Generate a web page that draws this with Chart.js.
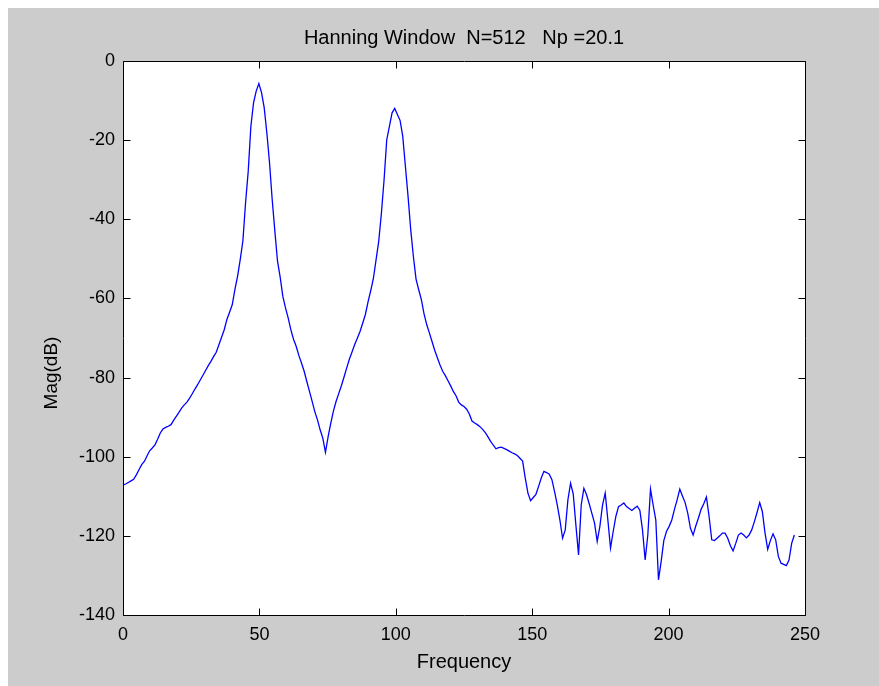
<!DOCTYPE html>
<html>
<head>
<meta charset="utf-8">
<script src="https://cdn.jsdelivr.net/npm/chart.js@4.4.1/dist/chart.umd.min.js"></script>
<style>
  html, body { margin: 0; padding: 0; background: #fff; }
  canvas { display: block; }
</style>
</head>
<body>
<canvas id="myChart" width="879" height="686"></canvas>
<script>
// FFT setup: bin k sits at k * fs / nfft Hz
const fs = 500;
const nfft = 512;

// magnitude in dB, one value per bin (0..252)
const magDb = [
  -107.1, -106.9, -106.5, -106.1, -105.7, -104.6, -103.3, -102.0, -101.2, -99.8,
  -98.5, -97.8, -97.0, -95.6, -94.0, -93.0, -92.6, -92.3, -91.9, -90.8,
  -89.8, -88.8, -87.7, -86.9, -86.2, -85.2, -84.1, -82.9, -81.8, -80.6,
  -79.4, -78.2, -77.0, -75.9, -74.7, -73.6, -71.7, -69.8, -67.9, -65.3,
  -63.5, -61.6, -57.8, -54.4, -50.2, -45.5, -35.9, -27.9, -16.5, -10.6,
  -7.6, -5.7, -8.0, -11.8, -18.2, -25.7, -35.0, -43.0, -50.6, -54.6,
  -59.5, -62.4, -64.9, -67.9, -70.3, -72.1, -74.4, -76.3, -78.4, -81.0,
  -83.5, -86.0, -88.6, -90.7, -93.2, -95.3, -98.9, -94.9, -91.5, -88.4,
  -86.0, -84.0, -82.0, -79.8, -77.5, -75.3, -73.5, -71.6, -70.0, -68.3,
  -66.2, -64.0, -60.8, -58.0, -54.9, -50.2, -45.5, -38.4, -30.0, -19.9,
  -16.5, -13.1, -12.0, -13.5, -15.0, -19.0, -26.6, -34.2, -42.6, -49.4,
  -55.1, -57.8, -60.3, -63.9, -66.6, -68.7, -70.9, -73.1, -75.0, -76.8,
  -78.4, -79.5, -80.8, -82.1, -83.5, -84.6, -86.2, -86.9, -87.3, -88.0,
  -89.2, -91.0, -91.5, -91.9, -92.4, -93.1, -93.9, -95.0, -96.1, -97.1,
  -98.0, -97.7, -97.6, -97.9, -98.2, -98.6, -99.0, -99.3, -99.7, -100.4,
  -101.1, -105.4, -109.2, -111.1, -110.3, -109.5, -107.5, -105.4, -103.7, -104.0,
  -104.4, -105.8, -108.8, -112.2, -116.0, -120.6, -118.5, -110.9, -106.7, -109.4,
  -117.3, -124.8, -112.2, -108.0, -109.6, -111.9, -114.3, -116.8, -121.4, -117.6,
  -112.2, -109.2, -116.0, -123.1, -118.9, -115.1, -112.6, -112.2, -111.7, -112.6,
  -113.1, -113.6, -113.0, -112.5, -113.5, -118.5, -126.1, -119.8, -108.2, -112.2,
  -116.0, -131.1, -126.5, -121.2, -118.9, -117.6, -116.0, -113.3, -110.9, -108.2,
  -109.9, -111.6, -114.3, -118.1, -119.8, -117.5, -115.5, -113.3, -111.9, -110.2,
  -115.1, -121.0, -121.2, -120.6, -120.0, -119.3, -119.3, -120.6, -122.5, -123.8,
  -121.9, -119.8, -119.3, -119.8, -120.5, -119.8, -118.5, -116.4, -114.1, -111.6,
  -113.9, -119.3, -123.4, -121.2, -119.5, -121.0, -125.2, -126.9, -127.2, -127.5,
  -126.1, -121.9, -119.8
];

const xTicks = [0, 50, 100, 150, 200, 250];
const yTicks = [0, -20, -40, -60, -80, -100, -120, -140];

const titleText = 'Hanning Window  N=512   Np =20.1';
const yLabel = 'Mag(dB)';

const points = magDb.map((v, k) => ({ x: k * fs / nfft, y: v }));

const fontFamily = '"Liberation Sans", Arial, sans-serif';

// MATLAB look: grey figure, white axes box, ticks pointing inward on all 4 sides
const matlabAxes = {
  id: 'matlabAxes',
  beforeDraw(chart) {
    const { ctx, chartArea: a } = chart;
    ctx.save();
    ctx.fillStyle = '#ffffff';
    ctx.fillRect(0, 0, chart.width, chart.height);
    ctx.fillStyle = '#cccccc';
    ctx.fillRect(8, 8, chart.width - 8, chart.height - 8);
    ctx.fillStyle = '#ffffff';
    ctx.fillRect(a.left, a.top, a.right - a.left, a.bottom - a.top);
    ctx.restore();
  },
  afterDraw(chart) {
    const { ctx, chartArea: a, scales } = chart;
    const L = Math.round(a.left) + 0.5, R = Math.round(a.right) + 0.5;
    const T = Math.round(a.top) + 0.5, B = Math.round(a.bottom) + 0.5;
    const len = 7;
    ctx.save();
    ctx.strokeStyle = '#000000';
    ctx.lineWidth = 1;
    ctx.beginPath();
    ctx.rect(L, T, R - L, B - T);
    scales.x.ticks.forEach(t => {
      const px = Math.round(scales.x.getPixelForValue(t.value)) + 0.5;
      ctx.moveTo(px, B); ctx.lineTo(px, B - len);
      ctx.moveTo(px, T); ctx.lineTo(px, T + len);
    });
    scales.y.ticks.forEach(t => {
      const py = Math.round(scales.y.getPixelForValue(t.value)) + 0.5;
      ctx.moveTo(L, py); ctx.lineTo(L + len, py);
      ctx.moveTo(R, py); ctx.lineTo(R - len, py);
    });
    ctx.stroke();

    // ylabel sits a bit below the middle of the axis in the original
    ctx.translate(52, 373);
    ctx.rotate(-Math.PI / 2);
    ctx.fillStyle = '#000000';
    ctx.font = '19px ' + fontFamily;
    ctx.textAlign = 'center';
    ctx.textBaseline = 'middle';
    ctx.fillText(yLabel, 0, 0);
    ctx.restore();
  }
};

Chart.defaults.font.family = fontFamily;
Chart.defaults.font.size = 18;
Chart.defaults.color = '#000000';

const ctx = document.getElementById('myChart');
new Chart(ctx, {
  type: 'line',
  data: {
    datasets: [{
      data: points,
      borderColor: '#0000ff',
      borderWidth: 1.3,
      pointRadius: 0,
      tension: 0,
      fill: false
    }]
  },
  options: {
    responsive: false,
    animation: false,
    devicePixelRatio: 1,
    parsing: false,
    layout: { padding: { left: 0, right: 74, top: 0, bottom: 0 } },
    plugins: {
      legend: { display: false },
      tooltip: { enabled: false },
      title: { display: false }
    },
    scales: {
      x: {
        type: 'linear',
        min: 0,
        max: 250,
        afterBuildTicks: s => { s.ticks = xTicks.map(v => ({ value: v })); },
        afterFit: s => { s.height = 71; },
        grid: { display: false, drawTicks: false },
        border: { display: false },
        ticks: { padding: 9, maxRotation: 0 },
        title: {
          display: true,
          text: 'Frequency',
          font: { size: 20 },
          padding: { top: 0, bottom: 12 }
        }
      },
      // top axis only carries the title, so it centres over the plot box
      xTop: {
        type: 'linear',
        position: 'top',
        min: 0,
        max: 250,
        afterFit: s => { s.height = 61; },
        grid: { display: false, drawTicks: false },
        border: { display: false },
        ticks: { display: false },
        title: {
          display: true,
          text: titleText,
          font: { size: 20 },
          padding: { top: 26, bottom: 0 }
        }
      },
      y: {
        type: 'linear',
        min: -140,
        max: 0,
        afterBuildTicks: s => { s.ticks = yTicks.map(v => ({ value: v })); },
        afterFit: s => { s.width = 123; },
        grid: { display: false, drawTicks: false },
        border: { display: false },
        ticks: { padding: 8 },
        title: { display: false }
      }
    }
  },
  plugins: [matlabAxes]
});
</script>
</body>
</html>
